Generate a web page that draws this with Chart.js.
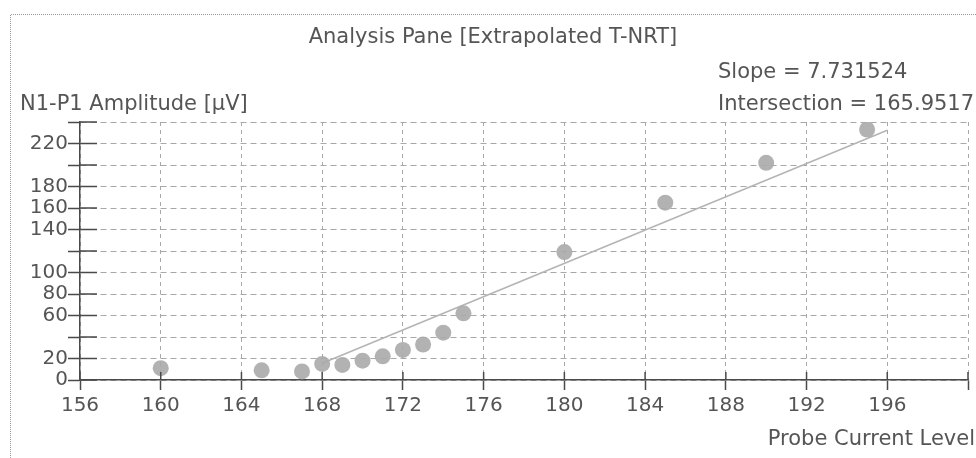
<!DOCTYPE html>
<html>
<head>
<meta charset="utf-8">
<script src="https://cdn.jsdelivr.net/npm/chart.js@4/dist/chart.umd.min.js"></script>
<style>
  html, body { margin: 0; padding: 0; background: #fff; }
  #wrap { width: 976px; height: 458px; }
</style>
</head>
<body>
<div id="wrap"><canvas id="chart" width="976" height="458"></canvas></div>
<script>
// measured points (probe current level vs N1-P1 amplitude)
const levels = [160, 165, 167, 168, 169, 170, 171, 172, 173, 174, 175, 180, 185, 190, 195];
const amplitudes = [11, 9, 8, 15, 14, 18, 22, 28, 33, 44, 62, 119, 165, 202, 233];

// regression line end points
const fitLevels = [168, 196];
const fitAmplitudes = [15.6, 232.3];

// y tick values that carry a label
const yLabelled = [0, 20, 60, 80, 100, 140, 160, 180, 220];

const titleText = "Analysis Pane [Extrapolated T-NRT]";
const slopeText = "Slope = 7.731524";
const interText = "Intersection = 165.9517";
const yTitle = "N1-P1 Amplitude [\u00b5V]";
const xTitle = "Probe Current Level";

const FONT = "DejaVu Sans";
const TEXT = "#555";

const points = levels.map((x, i) => ({ x: x, y: amplitudes[i] }));
const fit = fitLevels.map((x, i) => ({ x: x, y: fitAmplitudes[i] }));

// short tick marks on the inner side of both axes, and the dotted frame
const extras = {
  id: "extras",
  beforeDraw(chart) {
    const ctx = chart.ctx;
    ctx.save();
    ctx.fillStyle = "#fff";
    ctx.fillRect(0, 0, chart.width, chart.height);
    ctx.strokeStyle = "#999";
    ctx.lineWidth = 1;
    ctx.setLineDash([1, 1]);
    ctx.beginPath();
    ctx.moveTo(10.5, chart.height);
    ctx.lineTo(10.5, 14.5);
    ctx.lineTo(chart.width, 14.5);
    ctx.stroke();
    ctx.restore();
  },
  afterDraw(chart) {
    const ctx = chart.ctx;
    const x = chart.scales.x, y = chart.scales.y;
    const area = chart.chartArea;
    ctx.save();
    ctx.strokeStyle = "#4a4a4a";
    ctx.lineWidth = 1.5;
    ctx.beginPath();
    y.ticks.forEach(t => {
      const py = y.getPixelForValue(t.value);
      ctx.moveTo(area.left, py);
      ctx.lineTo(area.left + 17, py);
    });
    x.ticks.forEach(t => {
      const px = x.getPixelForValue(t.value);
      ctx.moveTo(px, area.bottom);
      ctx.lineTo(px, area.bottom - 8);
    });
    ctx.stroke();

    ctx.fillStyle = TEXT;
    ctx.font = "21px '" + FONT + "'";
    ctx.textBaseline = "middle";
    ctx.textAlign = "center";
    ctx.fillText(titleText, 493, 38);
    ctx.textAlign = "left";
    ctx.fillText(slopeText, 718, 73);
    ctx.fillText(interText, 718, 105);
    ctx.fillText(yTitle, 20, 105);
    ctx.textAlign = "right";
    ctx.fillText(xTitle, 975, 440);
    ctx.restore();
  }
};

new Chart(document.getElementById("chart"), {
  type: "scatter",
  data: {
    datasets: [
      {
        label: "Amplitude",
        data: points,
        pointRadius: 8,
        pointHoverRadius: 8,
        backgroundColor: "rgba(170,170,170,0.9)",
        borderWidth: 0,
        order: 0
      },
      {
        type: "line",
        label: "Fit",
        data: fit,
        borderColor: "#b4b4b4",
        borderWidth: 1.5,
        pointRadius: 0,
        fill: false,
        order: 1
      }
    ]
  },
  plugins: [extras],
  options: {
    responsive: false,
    animation: false,
    layout: { padding: { top: 122, right: 1, bottom: 0, left: 0 } },
    plugins: {
      legend: { display: false },
      tooltip: { enabled: false },
      title: { display: false }
    },
    scales: {
      x: {
        type: "linear",
        min: 156,
        max: 200,
        afterFit(scale) { scale.height = 78; },
        ticks: {
          stepSize: 4,
          padding: 4,
          autoSkip: false,
          color: TEXT,
          font: { family: FONT, size: 20 },
          maxRotation: 0,
          callback: (v) => (v === 200 ? "" : v)
        },
        grid: {
          color: "#a8a8a8",
          lineWidth: 1,
          tickLength: 10,
          tickColor: "#4a4a4a",
          tickWidth: 1.5
        },
        border: { color: "#4a4a4a", width: 1.5, dash: [4, 4] }
      },
      y: {
        min: 0,
        max: 240,
        afterFit(scale) { scale.width = 80; },
        ticks: {
          stepSize: 20,
          padding: 0,
          autoSkip: false,
          color: TEXT,
          font: { family: FONT, size: 20 },
          callback: (v) => (yLabelled.includes(v) ? v : "")
        },
        grid: {
          color: "#a8a8a8",
          lineWidth: 1,
          tickLength: 12,
          tickColor: "#4a4a4a",
          tickWidth: 1.5
        },
        border: { color: "#4a4a4a", width: 1.5, dash: [6, 4] }
      }
    }
  }
});
</script>
</body>
</html>
